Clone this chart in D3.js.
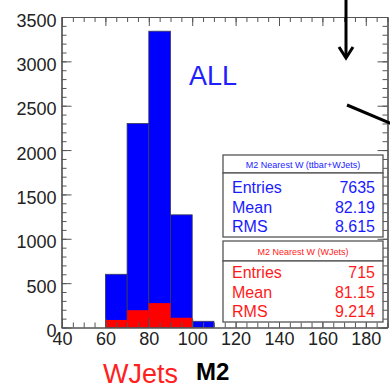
<!DOCTYPE html>
<html>
<head>
<meta charset="utf-8">
<script src="https://cdn.jsdelivr.net/npm/d3@7"></script>
<style>
  body { margin: 0; background: #fff; }
  svg { display: block; font-family: "Liberation Sans", Arial, sans-serif; }
</style>
</head>
<body>
<div id="chart"></div>
<script>
// histogram bins (M2, GeV)
const binLow = [60, 70, 80, 90, 100];
const binWidth = 10;
const allCounts = [600, 2300, 3340, 1270, 70];
const wjetsCounts = [85, 195, 275, 110, 0];

const xTicks = [40, 60, 80, 100, 120, 140, 160, 180];
const yTicks = [0, 500, 1000, 1500, 2000, 2500, 3000, 3500];

const statsAllTitle = "M2 Nearest W (ttbar+WJets)";
const statsAllRows = [["Entries", "7635"], ["Mean", "82.19"], ["RMS", "8.615"]];
const statsWJetsTitle = "M2 Nearest W (WJets)";
const statsWJetsRows = [["Entries", "715"], ["Mean", "81.15"], ["RMS", "9.214"]];

const width = 390, height = 389;
const frame = { left: 61.5, right: 387.5, top: 17, bottom: 327.5 };

const svg = d3.select("#chart")
    .append("svg")
    .attr("width", width)
    .attr("height", height);

const x = d3.scaleLinear().domain([40, 190]).range([frame.left + 0.5, frame.right]);
const y = d3.scaleLinear().domain([0, 3500]).range([frame.bottom, frame.top]);

// bars
svg.append("g")
    .selectAll("rect")
    .data(binLow.map((lo, i) => ({ lo, v: allCounts[i] })))
    .join("rect")
    .attr("x", d => x(d.lo))
    .attr("width", d => x(d.lo + binWidth) - x(d.lo))
    .attr("y", d => y(d.v))
    .attr("height", d => y(0) - y(d.v))
    .attr("fill", "#0000ff")
    .attr("stroke", "#3a3a5a")
    .attr("stroke-width", 0.8);

svg.append("g")
    .selectAll("rect")
    .data(binLow.map((lo, i) => ({ lo, v: wjetsCounts[i] })).filter(d => d.v > 0))
    .join("rect")
    .attr("x", d => x(d.lo))
    .attr("width", d => x(d.lo + binWidth) - x(d.lo))
    .attr("y", d => y(d.v))
    .attr("height", d => y(0) - y(d.v))
    .attr("fill", "#ff0000");

// axes, ticks pointing inward like ROOT
const axisColor = "#555";
function styleAxis(g) {
    g.select(".domain").attr("stroke", axisColor).attr("stroke-width", 1.2);
    g.selectAll(".tick line").attr("stroke", axisColor).attr("stroke-width", 1);
    g.selectAll("text")
        .attr("fill", "#222")
        .style("font-size", "18px")
        .style("font-family", "Liberation Sans, Arial, sans-serif");
}

const xMinor = d3.range(40, 191, 5);
const yMinor = d3.range(0, 3501, 100);
const fmt = d3.format("d");

svg.append("g")
    .attr("transform", `translate(0,${frame.bottom})`)
    .call(d3.axisBottom(x).tickValues(xMinor).tickSize(-5).tickFormat("").tickSizeOuter(0))
    .call(styleAxis);
svg.append("g")
    .attr("transform", `translate(0,${frame.bottom})`)
    .call(d3.axisBottom(x).tickValues(xTicks).tickSize(-9).tickPadding(5).tickFormat(fmt).tickSizeOuter(0))
    .call(styleAxis);

svg.append("g")
    .attr("transform", `translate(0,${frame.top})`)
    .call(d3.axisTop(x).tickValues(xMinor).tickSize(-5).tickFormat("").tickSizeOuter(0))
    .call(styleAxis);
svg.append("g")
    .attr("transform", `translate(0,${frame.top})`)
    .call(d3.axisTop(x).tickValues(xTicks).tickSize(-9).tickFormat("").tickSizeOuter(0))
    .call(styleAxis);

svg.append("g")
    .attr("transform", `translate(${frame.left},0)`)
    .call(d3.axisLeft(y).tickValues(yMinor).tickSize(-5).tickFormat("").tickSizeOuter(0))
    .call(styleAxis);
const yAxisG = svg.append("g")
    .attr("transform", `translate(${frame.left},0)`)
    .call(d3.axisLeft(y).tickValues(yTicks).tickSize(-10).tickPadding(5).tickFormat(fmt).tickSizeOuter(0))
    .call(styleAxis);
yAxisG.selectAll("text").attr("dy", "0.5em");

svg.append("g")
    .attr("transform", `translate(${frame.right},0)`)
    .call(d3.axisRight(y).tickValues(yMinor).tickSize(-5).tickFormat("").tickSizeOuter(0))
    .call(styleAxis);
svg.append("g")
    .attr("transform", `translate(${frame.right},0)`)
    .call(d3.axisRight(y).tickValues(yTicks).tickSize(-10).tickFormat("").tickSizeOuter(0))
    .call(styleAxis);

// stats boxes
function statsBox(top, titleH, bodyH, title, rows, color, rowStart, rowStep) {
    const bx = 223, bw = 160;
    const g = svg.append("g");
    g.append("rect").attr("x", bx).attr("y", top).attr("width", bw).attr("height", titleH)
        .attr("fill", "#fff").attr("stroke", "#555").attr("stroke-width", 1.3);
    g.append("rect").attr("x", bx).attr("y", top + titleH).attr("width", bw).attr("height", bodyH)
        .attr("fill", "#fff").attr("stroke", "#555").attr("stroke-width", 1.3);
    g.append("text").attr("x", bx + bw / 2).attr("y", top + titleH / 2 + 3.5)
        .attr("text-anchor", "middle").attr("fill", color)
        .style("font-size", "9px").text(title);
    rows.forEach((r, i) => {
        const yy = top + titleH + rowStart + i * rowStep;
        g.append("text").attr("x", bx + 9).attr("y", yy).attr("fill", color)
            .style("font-size", "16px").text(r[0]);
        g.append("text").attr("x", bx + bw - 8).attr("y", yy).attr("text-anchor", "end")
            .attr("fill", color).style("font-size", "16px").text(r[1]);
    });
}
statsBox(155, 18, 64, statsAllTitle, statsAllRows, "#1a1aff", 20, 19.5);
statsBox(241, 20, 61, statsWJetsTitle, statsWJetsRows, "#ff1a1a", 17, 19.5);

// labels
svg.append("text").attr("x", 189).attr("y", 85).attr("fill", "#2020ff")
    .style("font-size", "27px").text("ALL");
svg.append("text").attr("x", 103).attr("y", 383).attr("fill", "#ff2020")
    .style("font-size", "27px").text("WJets");
svg.append("text").attr("x", 196).attr("y", 380).attr("fill", "#000")
    .style("font-size", "24px").style("font-weight", "bold").text("M2");

// slide annotations (arrow and line)
svg.append("line").attr("x1", 346).attr("y1", 0).attr("x2", 346).attr("y2", 57)
    .attr("stroke", "#000").attr("stroke-width", 3);
svg.append("path").attr("d", "M339,47 L346,58 L353,47")
    .attr("fill", "none").attr("stroke", "#000").attr("stroke-width", 3);
svg.append("line").attr("x1", 347).attr("y1", 105).attr("x2", 392).attr("y2", 124)
    .attr("stroke", "#000").attr("stroke-width", 3);
</script>
</body>
</html>
